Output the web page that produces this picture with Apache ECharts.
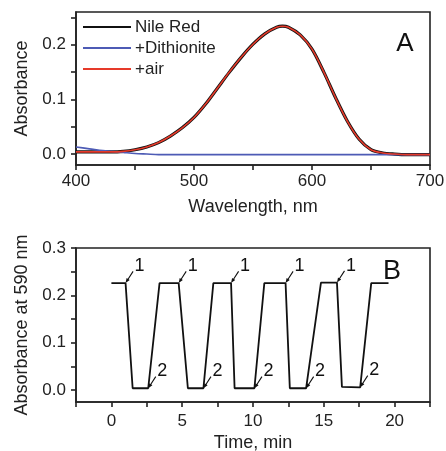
<!DOCTYPE html>
<html>
<head>
<meta charset="utf-8">
<script src="https://cdn.jsdelivr.net/npm/echarts@6/dist/echarts.min.js"></script>
<style>
    html, body {margin: 0; padding: 0; background: #fff;}
    #chart {width: 446px; height: 451px;}
</style>
</head>
<body>
<div id="chart"></div>
<script>
// panel A - spectra
var wavelength = [400, 410, 420, 430, 440, 450, 460, 470, 480, 490, 500, 510, 520, 530, 540, 550, 560, 570, 575, 580,
    590, 600, 610, 620, 630, 640, 650, 660, 670, 680, 690, 700];
var nileRed = [0.004, 0.004, 0.004, 0.004, 0.005, 0.008, 0.013, 0.021, 0.033, 0.048, 0.067, 0.092, 0.121, 0.150, 0.177, 0.201,
    0.220, 0.232, 0.234, 0.232, 0.218, 0.192, 0.150, 0.103, 0.060, 0.027, 0.008, 0.002, 0.000, -0.001, -0.001, -0.001];
var dithionite = [0.013, 0.010, 0.007, 0.005, 0.003, 0.001, 0.000, -0.001, -0.001, -0.001, -0.001, -0.001, -0.001, -0.001, -0.001, -0.001,
    -0.001, -0.001, -0.001, -0.001, -0.001, -0.001, -0.001, -0.001, -0.001, -0.001, -0.001, -0.001, -0.001, -0.001, -0.001, -0.001];
var plusAir = [0.004, 0.004, 0.004, 0.004, 0.005, 0.008, 0.013, 0.021, 0.033, 0.048, 0.067, 0.092, 0.121, 0.150, 0.177, 0.201,
    0.220, 0.232, 0.234, 0.232, 0.218, 0.192, 0.150, 0.103, 0.060, 0.027, 0.008, 0.002, 0.000, -0.001, -0.001, -0.001];

// panel B - cycling at 590 nm
var timeMin = [0, 1.0, 1.5, 2.6, 3.4, 4.75, 5.4, 6.5, 7.2, 8.45, 8.7, 10.1, 10.8, 12.3, 12.6, 13.75, 14.8, 15.93, 16.28, 17.57, 18.35, 19.57];
var abs590 = [0.226, 0.226, 0.004, 0.004, 0.226, 0.226, 0.004, 0.004, 0.226, 0.226, 0.004, 0.004, 0.226, 0.226, 0.004, 0.004,
    0.227, 0.227, 0.007, 0.006, 0.226, 0.226];
var marker1Idx = [1, 5, 9, 13, 17];   // dithionite added
var marker2Idx = [3, 7, 11, 15, 19];  // air added

var ticksA_x = [400, 450, 500, 550, 600, 650, 700];
var labelsA_x = [400, 500, 600, 700];
var ticksA_y = [0, 0.05, 0.1, 0.15, 0.2, 0.25];
var labelsA_y = [0, 0.1, 0.2];
var ticksB_x = [-2.5, 0, 2.5, 5, 7.5, 10, 12.5, 15, 17.5, 20, 22.5];
var labelsB_x = [0, 5, 10, 15, 20];
var ticksB_y = [0, 0.05, 0.1, 0.15, 0.2, 0.25, 0.3];
var labelsB_y = [0, 0.1, 0.2, 0.3];

var FONT = "'Liberation Sans', Arial, sans-serif";
var AXC = "#222";

function pairs(xs, ys) {
    var out = [];
    for (var i = 0; i < xs.length; i++) {
        out.push([xs[i], ys[i]]);
    }
    return out;
}

function xAxisCfg(grid, min, max, ticks, labels, name, margin, gap) {
    return {
        type: 'value', gridIndex: grid, min: min, max: max,
        name: name, nameLocation: 'middle', nameGap: gap,
        nameTextStyle: {fontFamily: FONT, fontSize: 18, color: AXC},
        axisLine: {show: true, onZero: false, lineStyle: {color: AXC, width: 1.6}},
        axisTick: {show: true, inside: false, length: 5, customValues: ticks, lineStyle: {color: AXC, width: 1.6}},
        axisLabel: {customValues: labels, margin: margin, fontFamily: FONT, fontSize: 17, color: AXC},
        splitLine: {show: false}
    };
}

function yAxisCfg(grid, min, max, ticks, labels, name) {
    return {
        type: 'value', gridIndex: grid, min: min, max: max,
        name: name, nameLocation: 'middle', nameGap: 45,
        nameTextStyle: {fontFamily: FONT, fontSize: 18, color: AXC},
        axisLine: {show: true, onZero: false, lineStyle: {color: AXC, width: 1.6}},
        axisTick: {show: true, inside: false, length: 5, customValues: ticks, lineStyle: {color: AXC, width: 1.6}},
        axisLabel: {
            customValues: labels, margin: 10, fontFamily: FONT, fontSize: 17, color: AXC,
            formatter: function (v) { return v.toFixed(1); }
        },
        splitLine: {show: false}
    };
}

function markers(idxList, text) {
    var data = [];
    for (var i = 0; i < idxList.length; i++) {
        var k = idxList[i];
        data.push({coord: [timeMin[k], abs590[k]], value: text});
    }
    return data;
}

var arrowPath = 'path://M7.5,-0.33 L8.5,0.33 L3.27,8.17 L4.43,8.95 L0,12 L1.11,6.73 L2.27,7.51 Z';

function markerCfg(idxList, text) {
    return {
        symbol: arrowPath,
        symbolSize: [8, 12],
        symbolOffset: [4, -6],
        silent: true,
        itemStyle: {color: '#111'},
        label: {
            show: true, formatter: text, position: [14, -5], align: 'center', verticalAlign: 'middle',
            fontFamily: FONT, fontSize: 18, color: '#111'
        },
        data: markers(idxList, text)
    };
}

var myChart = echarts.init(document.getElementById('chart'), null, {renderer: 'canvas'});

var option = {
    animation: false,
    backgroundColor: '#fff',
    grid: [
        {left: 76, top: 12, right: 16, height: 153, show: true, borderColor: AXC, borderWidth: 1.6,
            containLabel: false, outerBoundsMode: 'none'},
        {left: 76, top: 248, right: 16, height: 154, show: true, borderColor: AXC, borderWidth: 1.6,
            containLabel: false, outerBoundsMode: 'none'}
    ],
    legend: {
        left: 78, top: 13, orient: 'vertical',
        icon: 'rect', itemWidth: 48, itemHeight: 2, itemGap: 3,
        textStyle: {fontFamily: FONT, fontSize: 17, color: AXC, padding: [0, 0, 0, -1], lineHeight: 18},
        data: ['Nile Red', '+Dithionite', '+air']
    },
    graphic: [
        {type: 'text', x: 405, y: 44, style: {text: 'A', fontFamily: FONT, fontSize: 26, fill: '#111', align: 'center', verticalAlign: 'middle'}},
        {type: 'text', x: 392, y: 272, style: {text: 'B', fontFamily: FONT, fontSize: 27, fill: '#111', align: 'center', verticalAlign: 'middle'}}
    ],
    xAxis: [
        xAxisCfg(0, 400, 700, ticksA_x, labelsA_x, 'Wavelength, nm', 8, 33),
        xAxisCfg(1, -2.5, 22.5, ticksB_x, labelsB_x, 'Time, min', 11, 32)
    ],
    yAxis: [
        yAxisCfg(0, -0.02, 0.26, ticksA_y, labelsA_y, 'Absorbance'),
        yAxisCfg(1, -0.025, 0.3, ticksB_y, labelsB_y, 'Absorbance at 590 nm')
    ],
    series: [
        {
            name: 'Nile Red', type: 'line', xAxisIndex: 0, yAxisIndex: 0, smooth: 0.3,
            symbol: 'none', color: '#111', lineStyle: {width: 3.2, color: '#111'},
            data: pairs(wavelength, nileRed)
        },
        {
            name: '+Dithionite', type: 'line', xAxisIndex: 0, yAxisIndex: 0, smooth: 0.3,
            symbol: 'none', color: '#4d5bb5', lineStyle: {width: 1.6, color: '#4d5bb5'},
            data: pairs(wavelength, dithionite)
        },
        {
            name: '+air', type: 'line', xAxisIndex: 0, yAxisIndex: 0, smooth: 0.3,
            symbol: 'none', color: '#e63a2a', lineStyle: {width: 1.6, color: '#e63a2a'},
            data: pairs(wavelength, plusAir)
        },
        {
            name: 'cycle', type: 'line', xAxisIndex: 1, yAxisIndex: 1,
            symbol: 'none', color: '#111', lineStyle: {width: 1.8, color: '#111'},
            data: pairs(timeMin, abs590),
            markPoint: markerCfg(marker1Idx, '1')
        },
        {
            name: 'cycle2', type: 'line', xAxisIndex: 1, yAxisIndex: 1,
            symbol: 'none', lineStyle: {width: 0},
            data: [],
            markPoint: markerCfg(marker2Idx, '2')
        }
    ]
};
myChart.setOption(option);
</script>
</body>
</html>
